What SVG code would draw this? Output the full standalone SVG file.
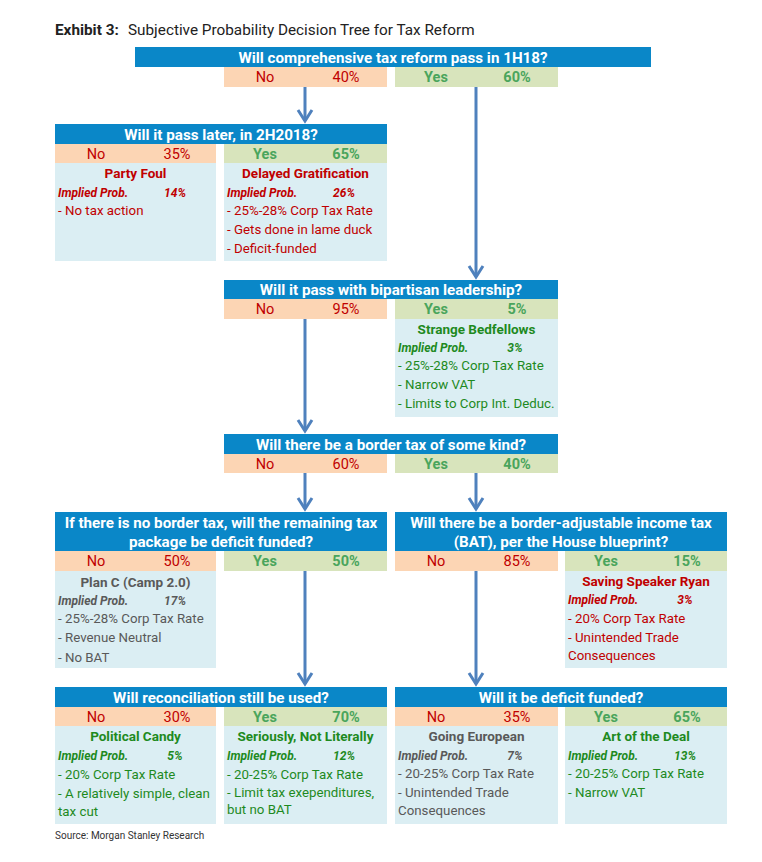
<svg xmlns="http://www.w3.org/2000/svg" width="762" height="862" viewBox="0 0 762 862">
<defs>
<style>
text{font-family:Roboto,"Liberation Sans",Arial,sans-serif}
.hdr{fill:#0A87C8}
.no{fill:#FCD5B4}
.yes{fill:#D8E4BC}
.cnt{fill:#DBEEF3}
.ht{font-size:15.2px;font-weight:bold;fill:#fff;text-anchor:middle}
.lab{font-size:14.5px;text-anchor:middle}
.nt{fill:#C00000}
.yt{fill:#4AA55C;font-weight:bold}
.ct{font-size:13.5px;font-weight:bold;text-anchor:middle}
.ip{font-size:12px;font-weight:bold;font-style:italic}
.pc{text-anchor:middle}
.ln{font-size:13.3px}
.r{fill:#C00000}
.g{fill:#1E8A1E}
.k{fill:#595959}
.conn line{stroke:#4F81BD;stroke-width:3;marker-end:url(#ah)}
</style>
<marker id="ah" markerUnits="userSpaceOnUse" viewBox="-14 -10 17 20" markerWidth="17" markerHeight="20" refX="0" refY="0" orient="auto">
<path d="M-11,-7 L0,0 L-11,7" fill="none" stroke="#4F81BD" stroke-width="3"/>
</marker>
</defs>
<rect width="762" height="862" fill="#fff"/>
<text x="55" y="35" font-size="15.3" fill="#222"><tspan font-weight="bold">Exhibit 3:</tspan><tspan x="128">Subjective Probability Decision Tree for Tax Reform</tspan></text>

<g id="connectors" class="conn">
<line x1="305" y1="87" x2="305" y2="121"/>
<line x1="476" y1="87" x2="476" y2="277"/>
<line x1="305" y1="319" x2="305" y2="431"/>
<line x1="305" y1="473" x2="305" y2="509"/>
<line x1="476" y1="473" x2="476" y2="509"/>
<line x1="305" y1="571" x2="305" y2="684"/>
<line x1="476" y1="571" x2="476" y2="684"/>
</g>

<g id="q1">
<rect class="hdr" x="135" y="47" width="516" height="20"/>
<text class="ht" x="393" y="63">Will comprehensive tax reform pass in 1H18?</text>
<rect class="no" x="224" y="67" width="163" height="20"/>
<text class="lab nt" x="265" y="82">No</text><text class="lab nt" x="346" y="82">40%</text>
<rect class="yes" x="395" y="67" width="163" height="20"/>
<text class="lab yt" x="436" y="82">Yes</text><text class="lab yt" x="517" y="82">60%</text>
</g>

<g id="q2">
<rect class="hdr" x="55" y="124" width="332" height="20"/>
<text class="ht" x="221" y="140">Will it pass later, in 2H2018?</text>
<rect class="no" x="55" y="144" width="161" height="19"/>
<text class="lab nt" x="96" y="159">No</text><text class="lab nt" x="177" y="159">35%</text>
<rect class="yes" x="224" y="144" width="163" height="19"/>
<text class="lab yt" x="265" y="159">Yes</text><text class="lab yt" x="346" y="159">65%</text>
</g>

<g id="o-party-foul">
<rect class="cnt" x="55" y="163" width="161" height="98"/>
<text class="ct r" x="135.5" y="178">Party Foul</text>
<text class="ip r" x="58" y="197">Implied Prob.</text><text class="ip pc r" x="175" y="197">14%</text>
<text class="ln r" x="58" y="215">- No tax action</text>
</g>

<g id="o-delayed">
<rect class="cnt" x="224" y="163" width="163" height="98"/>
<text class="ct r" x="305.5" y="178">Delayed Gratification</text>
<text class="ip r" x="227" y="197">Implied Prob.</text><text class="ip pc r" x="344" y="197">26%</text>
<text class="ln r" x="227" y="215">- 25%-28% Corp Tax Rate</text>
<text class="ln r" x="227" y="234">- Gets done in lame duck</text>
<text class="ln r" x="227" y="253">- Deficit-funded</text>
</g>

<g id="q3">
<rect class="hdr" x="224" y="280" width="334" height="19"/>
<text class="ht" x="391" y="295">Will it pass with bipartisan leadership?</text>
<rect class="no" x="224" y="299" width="163" height="20"/>
<text class="lab nt" x="265" y="314">No</text><text class="lab nt" x="346" y="314">95%</text>
<rect class="yes" x="395" y="299" width="163" height="20"/>
<text class="lab yt" x="436" y="314">Yes</text><text class="lab yt" x="517" y="314">5%</text>
</g>

<g id="o-strange">
<rect class="cnt" x="395" y="319" width="163" height="98"/>
<text class="ct g" x="476.5" y="334">Strange Bedfellows</text>
<text class="ip g" x="398" y="352">Implied Prob.</text><text class="ip pc g" x="515" y="352">3%</text>
<text class="ln g" x="398" y="370">- 25%-28% Corp Tax Rate</text>
<text class="ln g" x="398" y="389">- Narrow VAT</text>
<text class="ln g" x="398" y="408">- Limits to Corp Int. Deduc.</text>
</g>

<g id="q4">
<rect class="hdr" x="224" y="434" width="334" height="20"/>
<text class="ht" x="391" y="450">Will there be a border tax of some kind?</text>
<rect class="no" x="224" y="454" width="163" height="19"/>
<text class="lab nt" x="265" y="469">No</text><text class="lab nt" x="346" y="469">60%</text>
<rect class="yes" x="395" y="454" width="163" height="19"/>
<text class="lab yt" x="436" y="469">Yes</text><text class="lab yt" x="517" y="469">40%</text>
</g>

<g id="q5-left">
<rect class="hdr" x="55" y="512" width="332" height="39"/>
<text class="ht" x="221" y="528">If there is no border tax, will the remaining tax</text>
<text class="ht" x="221" y="547">package be deficit funded?</text>
<rect class="no" x="55" y="551" width="161" height="20"/>
<text class="lab nt" x="96" y="566">No</text><text class="lab nt" x="177" y="566">50%</text>
<rect class="yes" x="224" y="551" width="163" height="20"/>
<text class="lab yt" x="265" y="566">Yes</text><text class="lab yt" x="346" y="566">50%</text>
</g>

<g id="o-plan-c">
<rect class="cnt" x="55" y="571" width="161" height="97"/>
<text class="ct k" x="135.5" y="587">Plan C (Camp 2.0)</text>
<text class="ip k" x="58" y="605">Implied Prob.</text><text class="ip pc k" x="175" y="605">17%</text>
<text class="ln k" x="58" y="623">- 25%-28% Corp Tax Rate</text>
<text class="ln k" x="58" y="642">- Revenue Neutral</text>
<text class="ln k" x="58" y="662">- No BAT</text>
</g>

<g id="q5-right">
<rect class="hdr" x="395" y="512" width="332" height="39"/>
<text class="ht" x="561" y="528">Will there be a border-adjustable income tax</text>
<text class="ht" x="561" y="547">(BAT), per the House blueprint?</text>
<rect class="no" x="395" y="551" width="163" height="20"/>
<text class="lab nt" x="436" y="566">No</text><text class="lab nt" x="517" y="566">85%</text>
<rect class="yes" x="565" y="551" width="162" height="20"/>
<text class="lab yt" x="606" y="566">Yes</text><text class="lab yt" x="687" y="566">15%</text>
</g>

<g id="o-speaker-ryan">
<rect class="cnt" x="565" y="571" width="162" height="97"/>
<text class="ct r" x="646" y="586">Saving Speaker Ryan</text>
<text class="ip r" x="568" y="604">Implied Prob.</text><text class="ip pc r" x="685" y="604">3%</text>
<text class="ln r" x="568" y="623">- 20% Corp Tax Rate</text>
<text class="ln r" x="568" y="642">- Unintended Trade</text>
<text class="ln r" x="568" y="660">Consequences</text>
</g>

<g id="q6-left">
<rect class="hdr" x="55" y="687" width="332" height="20"/>
<text class="ht" x="221" y="703">Will reconciliation still be used?</text>
<rect class="no" x="55" y="707" width="161" height="19"/>
<text class="lab nt" x="96" y="722">No</text><text class="lab nt" x="177" y="722">30%</text>
<rect class="yes" x="224" y="707" width="163" height="19"/>
<text class="lab yt" x="265" y="722">Yes</text><text class="lab yt" x="346" y="722">70%</text>
</g>

<g id="o-political-candy">
<rect class="cnt" x="55" y="726" width="161" height="98"/>
<text class="ct g" x="135.5" y="741">Political Candy</text>
<text class="ip g" x="58" y="760">Implied Prob.</text><text class="ip pc g" x="175" y="760">5%</text>
<text class="ln g" x="58" y="779">- 20% Corp Tax Rate</text>
<text class="ln g" x="58" y="798">- A relatively simple, clean</text>
<text class="ln g" x="58" y="816">tax cut</text>
</g>

<g id="o-seriously">
<rect class="cnt" x="224" y="726" width="163" height="98"/>
<text class="ct g" x="305.5" y="741">Seriously, Not Literally</text>
<text class="ip g" x="227" y="760">Implied Prob.</text><text class="ip pc g" x="344" y="760">12%</text>
<text class="ln g" x="227" y="779">- 20-25% Corp Tax Rate</text>
<text class="ln g" x="227" y="797">- Limit tax exependitures,</text>
<text class="ln g" x="227" y="814">but no BAT</text>
</g>

<g id="q6-right">
<rect class="hdr" x="395" y="687" width="332" height="20"/>
<text class="ht" x="561" y="703">Will it be deficit funded?</text>
<rect class="no" x="395" y="707" width="163" height="19"/>
<text class="lab nt" x="436" y="722">No</text><text class="lab nt" x="517" y="722">35%</text>
<rect class="yes" x="565" y="707" width="162" height="19"/>
<text class="lab yt" x="606" y="722">Yes</text><text class="lab yt" x="687" y="722">65%</text>
</g>

<g id="o-going-european">
<rect class="cnt" x="395" y="726" width="163" height="98"/>
<text class="ct k" x="476.5" y="741">Going European</text>
<text class="ip k" x="398" y="760">Implied Prob.</text><text class="ip pc k" x="515" y="760">7%</text>
<text class="ln k" x="398" y="778">- 20-25% Corp Tax Rate</text>
<text class="ln k" x="398" y="797">- Unintended Trade</text>
<text class="ln k" x="398" y="815">Consequences</text>
</g>

<g id="o-art-of-the-deal">
<rect class="cnt" x="565" y="726" width="162" height="98"/>
<text class="ct g" x="646" y="741">Art of the Deal</text>
<text class="ip g" x="568" y="760">Implied Prob.</text><text class="ip pc g" x="685" y="760">13%</text>
<text class="ln g" x="568" y="778">- 20-25% Corp Tax Rate</text>
<text class="ln g" x="568" y="797">- Narrow VAT</text>
</g>

<text x="55" y="839" font-size="10" fill="#333">Source: Morgan Stanley Research</text>
</svg>
